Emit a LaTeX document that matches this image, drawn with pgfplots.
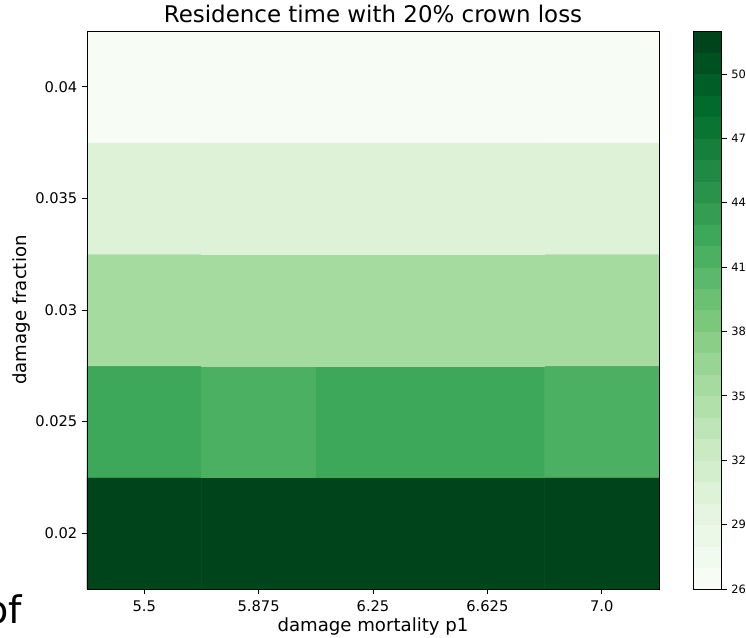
\documentclass[border=0pt]{standalone}
\usepackage{fontspec}
\setmainfont{DejaVu Sans}
\usepackage{pgfplots}
\pgfplotsset{compat=1.18}
\pgfplotstableread{
x y z
5.5 0.02 51.5
5.875 0.02 51.5
6.25 0.02 51.5
6.625 0.02 51.5
7.0 0.02 51.5
5.5 0.025 42.5
5.875 0.025 41.5
6.25 0.025 42.5
6.625 0.025 42.5
7.0 0.025 41.5
5.5 0.03 35.5
5.875 0.03 35.5
6.25 0.03 35.5
6.625 0.03 35.5
7.0 0.03 35.5
5.5 0.035 30.5
5.875 0.035 30.5
6.25 0.035 30.5
6.625 0.035 30.5
7.0 0.035 30.5
5.5 0.04 26.5
5.875 0.04 26.5
6.25 0.04 26.5
6.625 0.04 26.5
7.0 0.04 26.5
}\resdata
\pgfplotsset{
colormap={greensd}{
rgb255=(247,252,245)
rgb255=(241,250,238)
rgb255=(235,248,232)
rgb255=(230,245,225)
rgb255=(221,242,215)
rgb255=(211,238,205)
rgb255=(201,234,195)
rgb255=(190,229,183)
rgb255=(178,224,171)
rgb255=(166,219,159)
rgb255=(152,213,148)
rgb255=(138,206,136)
rgb255=(123,199,124)
rgb255=(108,192,114)
rgb255=(92,184,106)
rgb255=(75,176,98)
rgb255=(61,167,90)
rgb255=(52,157,82)
rgb255=(42,147,75)
rgb255=(32,137,67)
rgb255=(21,127,59)
rgb255=(10,117,51)
rgb255=(0,107,43)
rgb255=(0,94,38)
rgb255=(0,81,32)
rgb255=(0,68,27)
}}
\begin{document}
\begin{tikzpicture}
\begin{axis}[
  at={(0,0)}, anchor=south west,
  scale only axis, width=429pt, height=418.5pt,
  axis on top,
  xmin=5.3125, xmax=7.1875, ymin=0.0175, ymax=0.0425,
  xtick={5.5,5.875,6.25,6.625,7.0},
  xticklabels={5.5,5.875,6.25,6.625,7.0},
  ytick={0.02,0.025,0.03,0.035,0.04},
  yticklabels={0.02,0.025,0.03,0.035,0.04},
  scaled x ticks=false, scaled y ticks=false,
  tick align=outside, xtick pos=bottom, ytick pos=left,
  major tick length=3.75pt,
  every tick/.style={black, line width=0.6pt},
  axis line style={black, line width=0.6pt},
  tick label style={font=\fontsize{11}{13}\selectfont, /pgf/number format/assume math mode=true},
  xticklabel style={anchor=base, yshift=-12.75pt},
  yticklabel style={anchor=east},
  title={Residence time with 20\% crown loss},
  every axis title shift=0pt,
  title style={font=\fontsize{17.2}{20}\selectfont, at={(axis description cs:0.5,1)}, anchor=base, yshift=6.2pt},
  xlabel={damage mortality p1},
  ylabel={damage fraction},
  every axis x label/.style={at={(axis description cs:0.5,0)}, anchor=base, yshift=-31.5pt, font=\fontsize{13.6}{16}\selectfont},
  every axis y label/.style={at={(axis description cs:-0.1049,0.5)}, rotate=90, anchor=base, font=\fontsize{13.6}{16}\selectfont},
  colormap name=greensd,
  colormap access=piecewise constant,
  point meta min=26, point meta max=52,
  colorbar,
  colorbar style={
    at={(parent axis.north east)}, anchor=north west, xshift=17.2pt,
    scale only axis, width=21.3pt, height=418.5pt,
    colormap access=piecewise constant,
    ytick={26,29,32,35,38,41,44,47,50},
    ytick pos=right, yticklabel pos=right,
    tick align=outside, major tick length=3.75pt,
    every tick/.style={black, line width=0.6pt},
    axis line style={black, line width=0.6pt},
    yticklabel style={font=\fontsize{8.6}{10}\selectfont, /pgf/number format/assume math mode=true, anchor=west},
  },
]
\addplot[matrix plot*, mesh/cols=5, point meta=explicit] table[x=x, y=y, meta=z] {\resdata};
\end{axis}
\node[anchor=base west, font=\fontsize{28.5}{30}\selectfont, inner sep=0pt] at (-76.5pt,-25.5pt) {of};
\pgfresetboundingbox
\useasboundingbox (-65.25pt,-36pt) rectangle (494.25pt,441.75pt);
\end{tikzpicture}
\end{document}
